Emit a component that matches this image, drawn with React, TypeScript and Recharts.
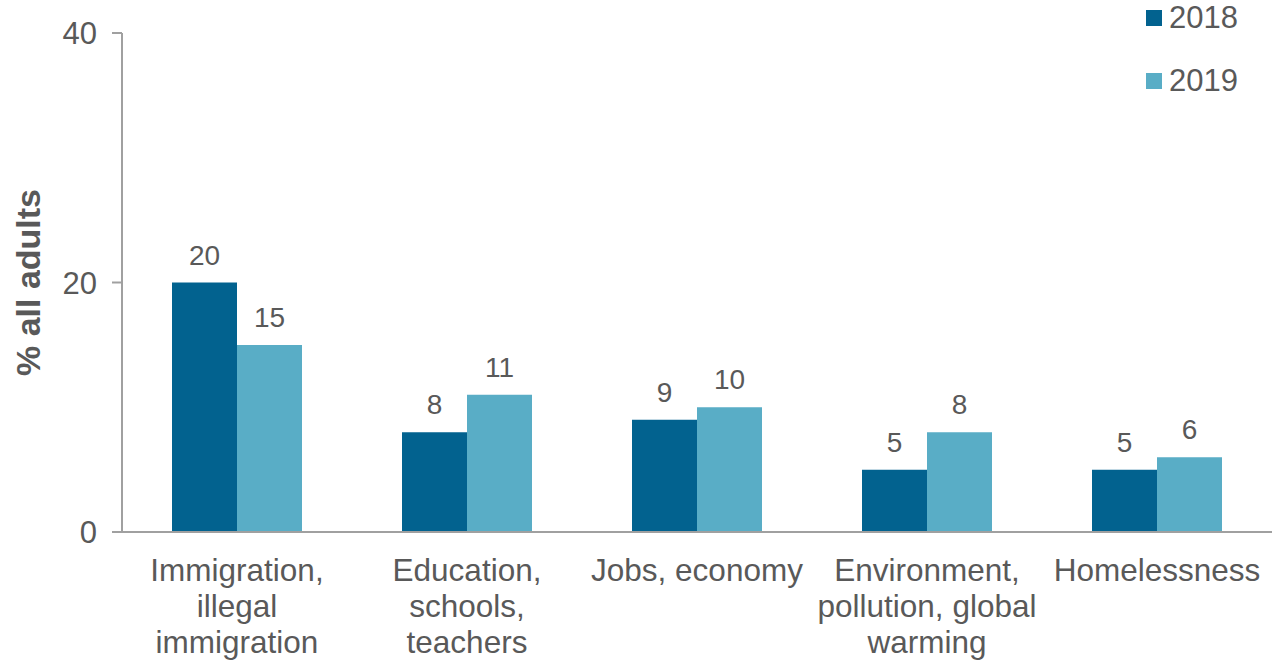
import { BarChart, Bar, XAxis, YAxis, Legend, LabelList, Label } from "recharts"

const categories = [
  "Immigration,\nillegal\nimmigration",
  "Education,\nschools,\nteachers",
  "Jobs, economy",
  "Environment,\npollution, global\nwarming",
  "Homelessness",
]
const values2018 = [20, 8, 9, 5, 5]
const values2019 = [15, 11, 10, 8, 6]
const yTicks = [0, 20, 40]
const boundaryTicks = [0, 1, 2, 3, 4, 5]

const COLORS = {
  y2018: "#02628F", // dark blue
  y2019: "#59ADC6", // light blue
  text: "#595959",
  axis: "#A0A0A0",
}
const FONT = "'Liberation Sans', Arial, sans-serif"

const data = categories.map((name, i) => ({
  name,
  v2018: values2018[i],
  v2019: values2019[i],
}))

function CategoryTick({ x, y, payload }: any) {
  const lines = String(payload.value).split("\n")
  return (
    <text x={x} y={y + 49} textAnchor="middle" fill={COLORS.text} fontSize={31.5} fontFamily={FONT}>
      {lines.map((line, i) => (
        <tspan key={i} x={x} dy={i === 0 ? 0 : 36}>
          {line}
        </tspan>
      ))}
    </text>
  )
}

function YTitle({ viewBox }: any) {
  const cx = 28
  const cy = viewBox.y + viewBox.height / 2
  return (
    <text
      x={cx}
      y={cy}
      transform={`rotate(-90, ${cx}, ${cy})`}
      textAnchor="middle"
      dominantBaseline="central"
      fill={COLORS.text}
      fontSize={34}
      fontWeight="bold"
      fontFamily={FONT}
    >
      % all adults
    </text>
  )
}

function LegendBox() {
  const items = [
    { label: "2018", color: COLORS.y2018 },
    { label: "2019", color: COLORS.y2019 },
  ]
  return (
    <div style={{ fontFamily: FONT }}>
      {items.map((it) => (
        <div key={it.label} style={{ display: "flex", alignItems: "center", height: 36, marginBottom: 27 }}>
          <div style={{ width: 16, height: 16, background: it.color, marginRight: 7 }} />
          <span style={{ fontSize: 31, color: COLORS.text, lineHeight: "36px" }}>{it.label}</span>
        </div>
      ))}
    </div>
  )
}

export default function App() {
  return (
    <div style={{ position: "absolute", left: 0, top: 0, background: "#fff" }}>
      <BarChart
        width={1278}
        height={662}
        data={data}
        margin={{ top: 33, right: 6, bottom: 0, left: 0 }}
        barCategoryGap="21.74%"
        barGap={0}
      >
        <XAxis
          xAxisId="edges"
          type="number"
          domain={[0, 5]}
          ticks={boundaryTicks}
          height={0}
          axisLine={false}
          tickLine={{ stroke: COLORS.axis, strokeWidth: 2 }}
          tickSize={10}
          tick={() => <g />}
        />
        <XAxis
          dataKey="name"
          height={130}
          interval={0}
          tickLine={false}
          tickSize={0}
          tickMargin={0}
          axisLine={{ stroke: COLORS.axis, strokeWidth: 2 }}
          tick={<CategoryTick />}
        />
        <YAxis
          width={122}
          domain={[0, 40]}
          ticks={yTicks}
          tickSize={10}
          tickMargin={15}
          axisLine={{ stroke: COLORS.axis, strokeWidth: 2 }}
          tickLine={{ stroke: COLORS.axis, strokeWidth: 2 }}
          tick={{ fill: COLORS.text, fontSize: 31, fontFamily: FONT }}
        >
          <Label content={<YTitle />} />
        </YAxis>
        <Legend
          layout="vertical"
          align="center"
          verticalAlign="middle"
          content={<LegendBox />}
          wrapperStyle={{ position: "absolute", top: 0, left: 1146, width: 132 }}
        />
        <Bar dataKey="v2018" name="2018" fill={COLORS.y2018} isAnimationActive={false}>
          <LabelList dataKey="v2018" position="top" offset={18} fill={COLORS.text} fontSize={28} fontFamily={FONT} />
        </Bar>
        <Bar dataKey="v2019" name="2019" fill={COLORS.y2019} isAnimationActive={false}>
          <LabelList dataKey="v2019" position="top" offset={18} fill={COLORS.text} fontSize={28} fontFamily={FONT} />
        </Bar>
      </BarChart>
    </div>
  )
}
